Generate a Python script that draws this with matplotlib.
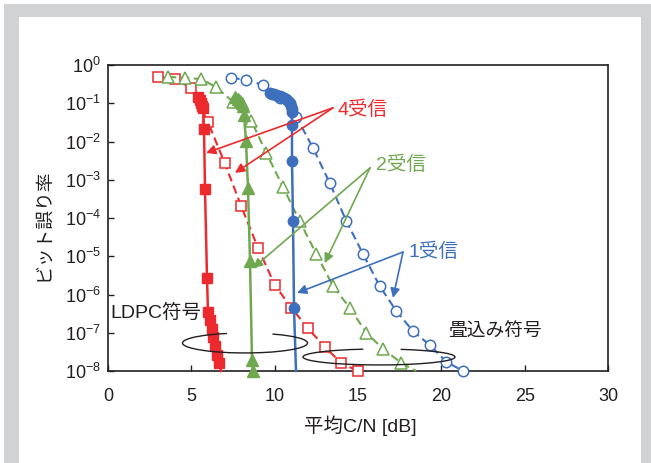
import matplotlib
matplotlib.use("Agg")
import matplotlib.pyplot as plt
from matplotlib.patches import Rectangle, Arc

plt.rcParams['font.family'] = ['Liberation Sans', 'Noto Sans CJK JP', 'DejaVu Sans']
plt.rcParams['mathtext.fontset'] = 'custom'
plt.rcParams['mathtext.rm'] = 'Liberation Sans'
plt.rcParams['mathtext.it'] = 'Liberation Sans'
plt.rcParams['mathtext.bf'] = 'Liberation Sans'

# ---------------- data ----------------
# LDPC, 4 receivers (red solid, filled squares)
ldpc4_x = [5.40, 5.52, 5.58, 5.64, 5.70, 5.76, 5.82, 5.94, 6.00, 6.12, 6.24, 6.30, 6.42, 6.54, 6.66, 6.78]
ldpc4_y = [1.45e-1, 1.2e-1, 1.0e-1, 8.5e-2, 7.6e-2, 2.1e-2, 5.7e-4, 2.7e-6, 3.5e-7, 2.1e-7,
           1.26e-7, 7.8e-8, 4.5e-8, 2.6e-8, 1.6e-8, 1.0e-8]
# Convolutional, 4 receivers (red dashed, open squares)
conv4_x = [3, 4, 5, 6, 7, 8, 9, 10, 11, 12, 13, 14, 15]
conv4_y = [4.9e-1, 4.3e-1, 2.5e-1, 3.2e-2, 2.75e-3, 2.0e-4, 1.66e-5, 1.8e-6, 4.5e-7,
           1.3e-7, 4.3e-8, 1.6e-8, 1.0e-8]
# LDPC, 2 receivers (green solid, filled triangles)
ldpc2_x = [7.62, 7.80, 7.92, 8.04, 8.10, 8.16, 8.28, 8.40, 8.52, 8.64, 8.70]
ldpc2_y = [1.45e-1, 1.3e-1, 1.15e-1, 1.02e-1, 8.5e-2, 4.9e-2, 1.02e-2, 6.0e-4, 7.6e-6,
           1.95e-8, 1.0e-8]
# Convolutional, 2 receivers (green dashed, open triangles)
conv2_x = [3.6, 4.6, 5.6, 6.5, 7.5, 8.6, 9.5, 10.5, 11.5, 12.5, 13.5, 14.5, 15.5, 16.5, 17.6, 18.5]
conv2_y = [4.9e-1, 4.6e-1, 4.3e-1, 2.6e-1, 1.1e-1, 3.5e-2, 5.0e-3, 6.5e-4, 8.3e-5,
           1.15e-5, 1.66e-6, 4.5e-7, 1.0e-7, 3.8e-8, 1.62e-8, 1.0e-8]
# LDPC, 1 receiver (blue solid, filled circles)
ldpc1_x = [9.72, 9.84, 9.96, 10.08, 10.20, 10.32, 10.44, 10.56, 10.68, 10.80, 10.90, 10.96,
           11.01, 11.04, 11.04, 11.04, 11.10, 11.16, 11.28]
ldpc1_y = [1.86e-1, 1.78e-1, 1.72e-1, 1.66e-1, 1.59e-1, 1.52e-1, 1.45e-1, 1.36e-1, 1.27e-1,
           1.15e-1, 9.9e-2, 8.5e-2, 7.2e-2, 5.9e-2, 2.7e-2, 3.1e-3, 8.3e-5, 4.5e-7, 1.0e-8]
# Convolutional, 1 receiver (blue dashed, open circles)
conv1_x = [7.4, 8.3, 9.3, 10.3, 11.3, 12.3, 13.3, 14.3, 15.3, 16.3, 17.3, 18.3, 19.3, 20.3, 21.3]
conv1_y = [4.6e-1, 4.1e-1, 3.0e-1, 1.4e-1, 4.4e-2, 6.8e-3, 8.3e-4, 8.3e-5, 1.15e-5,
           1.66e-6, 3.7e-7, 1.1e-7, 4.8e-8, 1.74e-8, 1.0e-8]

x_ticks = [0, 5, 10, 15, 20, 25, 30]
y_ticks = [1e0, 1e-1, 1e-2, 1e-3, 1e-4, 1e-5, 1e-6, 1e-7, 1e-8]
y_ticklabels = [r'$10^{0}$', r'$10^{-1}$', r'$10^{-2}$', r'$10^{-3}$', r'$10^{-4}$',
                r'$10^{-5}$', r'$10^{-6}$', r'$10^{-7}$', r'$10^{-8}$']

RED = '#ec2a2d'
GREEN = '#6fa84f'
BLUE = '#3d6fbd'
INK = '#231f20'

# ---------------- figure ----------------
W, H = 651, 463
fig = plt.figure(figsize=(W / 100, H / 100), dpi=100)
fig.patch.set_facecolor('white')
fig.patches.append(Rectangle((4 / W, 0), (W - 4) / W, (H - 4) / H, transform=fig.transFigure,
                             facecolor='#d1d2d4', edgecolor='none', zorder=-3))
fig.patches.append(Rectangle((19 / W, 0), (641 - 19) / W, (H - 17) / H, transform=fig.transFigure,
                             facecolor='white', edgecolor='none', zorder=-2))

ax = fig.add_axes([108 / W, 1 - 371 / H, 500 / W, 306 / H])
ax.set_zorder(1)
ax.set_facecolor('none')
ax.set_yscale('log')
ax.set_xlim(0, 30)
ax.set_ylim(1e-8, 1)

ms = 7.5
dash = (0, (4.0, 2.2))
# conv (dashed, open)
ax.plot(conv4_x, conv4_y, color=RED, ls=dash, lw=1.5, marker='s', ms=ms,
        mfc='white', mec=RED, mew=1.1, zorder=3, clip_on=False)
ax.plot(conv2_x, conv2_y, color=GREEN, ls=dash, lw=1.5, marker='^', ms=ms + 0.5,
        mfc='white', mec=GREEN, mew=1.1, zorder=3, clip_on=False,
        markevery=list(range(len(conv2_x) - 1)))
ax.plot(conv1_x, conv1_y, color=BLUE, ls=dash, lw=1.5, marker='o', ms=ms,
        mfc='white', mec=BLUE, mew=1.1, zorder=3, clip_on=False)
# LDPC (solid, filled)
ax.plot(ldpc4_x, ldpc4_y, color=RED, ls='-', lw=1.8, marker='s', ms=ms,
        mfc=RED, mec=RED, zorder=4, clip_on=False,
        markevery=list(range(len(ldpc4_x) - 1)))
ax.plot(ldpc2_x, ldpc2_y, color=GREEN, ls='-', lw=1.8, marker='^', ms=ms + 0.5,
        mfc=GREEN, mec=GREEN, zorder=4, clip_on=False)
ax.plot(ldpc1_x, ldpc1_y, color=BLUE, ls='-', lw=1.8, marker='o', ms=ms,
        mfc=BLUE, mec=BLUE, zorder=4, clip_on=False,
        markevery=list(range(len(ldpc1_x) - 1)))

# axes styling
ax.set_xticks(x_ticks)
ax.set_xticklabels([str(v) for v in x_ticks])
ax.set_yticks(y_ticks)
ax.set_yticklabels(y_ticklabels)
ax.yaxis.set_minor_locator(matplotlib.ticker.NullLocator())
ax.tick_params(axis='both', direction='in', length=4, width=1, labelsize=13, colors=INK)
ax.tick_params(axis='x', pad=12)
ax.tick_params(axis='y', pad=5)
for s in ax.spines.values():
    s.set_linewidth(1.2)
    s.set_color(INK)

ax.set_xlabel('平均C/N [dB]', fontsize=14, color=INK)
ax.xaxis.set_label_coords(0.504, -0.145)
ax.set_ylabel('ビット誤り率', fontsize=13.5, color=INK)
ax.yaxis.set_label_coords(-0.112, 0.477)

# annotations
def arrow(head, tail, color):
    ax.annotate('', xy=head, xytext=tail, xycoords='data', textcoords='data',
                arrowprops=dict(arrowstyle='-|>', color=color, lw=1.2, mutation_scale=14,
                                shrinkA=0, shrinkB=0), zorder=6, annotation_clip=False)

arrow((5.88, 10 ** -2.30), (13.5, 10 ** -1.12), RED)
arrow((7.62, 10 ** -2.82), (13.5, 10 ** -1.12), RED)
ax.text(15.25, 10 ** -1.18, '4受信', color=RED, fontsize=14, ha='center', va='center', zorder=7)

arrow((8.7, 10 ** -5.31), (15.72, 10 ** -2.69), GREEN)
arrow((13.0, 10 ** -5.18), (15.72, 10 ** -2.69), GREEN)
ax.text(17.55, 10 ** -2.61, '2受信', color=GREEN, fontsize=14, ha='center', va='center', zorder=7)

arrow((11.34, 10 ** -5.96), (17.7, 10 ** -4.89), BLUE)
arrow((17.1, 10 ** -6.09), (17.7, 10 ** -4.89), BLUE)
ax.text(19.5, 10 ** -4.89, '1受信', color=BLUE, fontsize=14, ha='center', va='center', zorder=7)

ax.text(2.88, 10 ** -6.48, 'LDPC符号', color=INK, fontsize=14, ha='center', va='center', zorder=7)
ax.text(23.2, 10 ** -6.98, '畳込み符号', color=INK, fontsize=13.5, ha='center', va='center', zorder=7)

ax.add_patch(Arc((0.274, 0.0915), 0.25, 0.065, theta1=139, theta2=28, transform=ax.transAxes,
                 color=INK, lw=1.0, zorder=5))
ax.add_patch(Arc((0.542, 0.0458), 0.304, 0.052, theta1=141, theta2=30, transform=ax.transAxes,
                 color=INK, lw=1.0, zorder=5))

fig.savefig('out.png', dpi=100)
